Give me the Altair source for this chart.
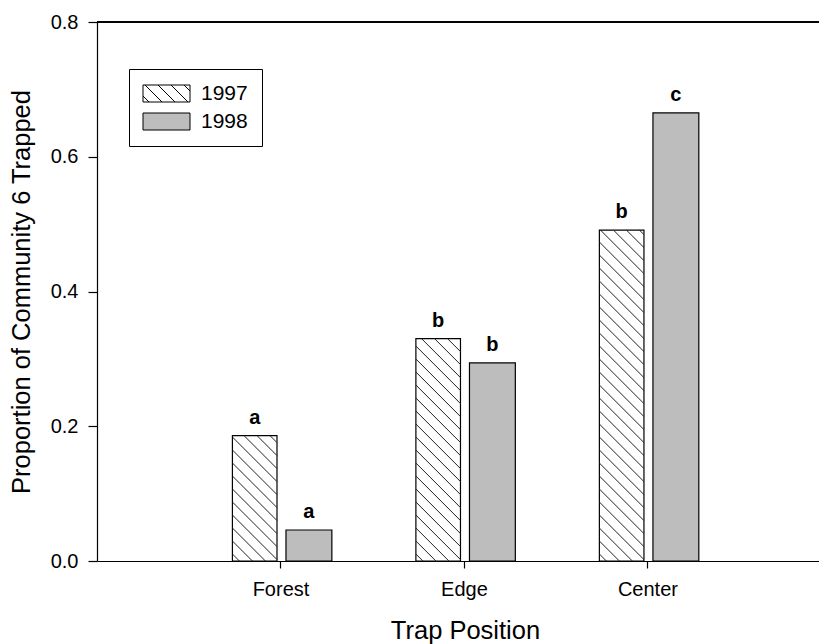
import altair as alt
import pandas as pd
import numpy as np

# ---- data ----
positions = ["Forest", "Edge", "Center"]
years = ["1997", "1998"]
values_1997 = [0.186, 0.330, 0.491]
values_1998 = [0.046, 0.294, 0.665]
letters_1997 = ["a", "b", "b"]
letters_1998 = ["a", "b", "c"]

# ---- layout constants ----
W, H = 722, 539
XMAX = 3.935
YMAX = 0.8
PX = W / XMAX
PY = H / YMAX
OFF97 = (-0.262, -0.019)
OFF98 = (0.030, 0.280)
GRAY = "#bdbdbd"
FONT = "Liberation Sans"

rows = []
for i, pos in enumerate(positions):
    rows.append({"Position": pos, "Year": years[0], "Value": values_1997[i], "Letter": letters_1997[i]})
    rows.append({"Position": pos, "Year": years[1], "Value": values_1998[i], "Letter": letters_1998[i]})
df = pd.DataFrame(rows)

pos_list = "[" + ",".join("'%s'" % p for p in positions) + "]"

# hatch lines for the 1997 bars (derived from the values)
SP = 13.0
hatch = []
for i, v in enumerate(values_1997):
    xl = (i + 1 + OFF97[0]) * PX
    xr = (i + 1 + OFF97[1]) * PX
    w = xr - xl
    top = v * PY
    c = 7.0
    while c < w + top:
        u0 = max(0.0, c - top)
        u1 = min(w, c)
        if u1 > u0:
            hatch.append({"hx": (xl + u0) / PX, "hy": (c - u0) / PY,
                          "hx2": (xl + u1) / PX, "hy2": (c - u1) / PY})
        c += SP
hatch_df = pd.DataFrame(hatch)

# legend symbol paths (unit = 10 px; drawn to the right of the symbol slot)
XL, XR, HY = -1.05, 3.65, 0.85
rect_path = f"M{XL},{-HY}L{XR},{-HY}L{XR},{HY}L{XL},{HY}Z"
hp = rect_path
for k in np.arange(XL - HY + 0.6, XR + HY, 1.3):
    xs = max(XL, k - HY)
    xe = min(XR, k + HY)
    if xe - xs > 0.05:
        hp += f"M{xs:.3f},{xs - k:.3f}L{xe:.3f},{xe - k:.3f}"

x_axis = alt.Axis(values=[1, 2, 3],
                  labelExpr=pos_list + "[datum.value - 1]",
                  title="Trap Position", titleX=368,
                  tickSize=7, labelPadding=11, titlePadding=19,
                  grid=False)
y_axis = alt.Axis(values=[0, 0.2, 0.4, 0.6, 0.8], format=".1f",
                  title="Proportion of Community 6 Trapped",
                  tickSize=9, labelPadding=10, titlePadding=16, grid=False)
x_scale = alt.Scale(domain=[0, XMAX], nice=False, zero=False)
y_scale = alt.Scale(domain=[0, YMAX], nice=False)

base = alt.Chart(df).transform_calculate(
    idx=f"indexof({pos_list}, datum.Position) + 1"
).transform_calculate(
    x0=f"datum.idx + (datum.Year == '{years[0]}' ? {OFF97[0]} : {OFF98[0]})",
    x1=f"datum.idx + (datum.Year == '{years[0]}' ? {OFF97[1]} : {OFF98[1]})",
).transform_calculate(
    xc="(datum.x0 + datum.x1) / 2",
    ymid="datum.Value / 2",
)

legend = alt.Legend(title=None, orient="none", legendX=32, legendY=47,
                    strokeColor="black", padding=14, symbolSize=400,
                    symbolOpacity=1, symbolStrokeWidth=1,
                    labelFontSize=21, labelFont=FONT, labelColor="black",
                    labelOffset=37, rowPadding=6)

points = base.mark_point(filled=True, opacity=0).encode(
    x=alt.X("xc:Q", scale=x_scale, axis=x_axis),
    y=alt.Y("ymid:Q", scale=y_scale, axis=y_axis),
    fill=alt.Fill("Year:N", scale=alt.Scale(domain=years, range=["white", GRAY]), legend=legend),
    stroke=alt.Stroke("Year:N", scale=alt.Scale(domain=years, range=["black", "black"]), legend=legend),
    shape=alt.Shape("Year:N", scale=alt.Scale(domain=years, range=[hp, rect_path]), legend=legend),
)

bars = base.mark_rect(stroke="black", strokeWidth=1.2).encode(
    x=alt.X("x0:Q", scale=x_scale, axis=x_axis),
    x2="x1:Q",
    y=alt.Y("Value:Q", scale=y_scale, axis=y_axis),
    y2=alt.datum(0),
    fill=alt.condition(f"datum.Year == '{years[0]}'", alt.value("white"), alt.value(GRAY)),
)

hatch_lines = alt.Chart(hatch_df).mark_rule(color="#222222", strokeWidth=1).encode(
    x=alt.X("hx:Q", scale=x_scale, axis=x_axis),
    x2="hx2:Q",
    y=alt.Y("hy:Q", scale=y_scale, axis=y_axis),
    y2="hy2:Q",
)

letters = base.mark_text(fontSize=20, fontWeight="bold", font=FONT, dy=-12,
                         baseline="alphabetic", align="center", color="black").encode(
    x=alt.X("xc:Q", scale=x_scale, axis=x_axis),
    y=alt.Y("Value:Q", scale=y_scale, axis=y_axis),
    text="Letter:N",
)

top_line = alt.Chart(df).mark_rule(color="black", strokeWidth=1.2).encode(
    y=alt.Y(datum=YMAX),
)

chart = alt.layer(points, bars, hatch_lines, letters, top_line).properties(
    width=W, height=H,
    autosize=alt.AutoSizeParams(type="none"),
    padding={"left": 97, "top": 22, "right": 0, "bottom": 83},
).configure(
    font=FONT,
).configure_view(
    strokeWidth=0,
).configure_axis(
    labelFont=FONT, titleFont=FONT, labelFontSize=20, titleFontSize=25.5,
    titleFontWeight="normal", labelColor="black", titleColor="black",
    domainColor="black", tickColor="black", domainWidth=1.2, tickWidth=1.2,
)

chart.save("out.html", embed_options={"renderer": "svg", "actions": False})
